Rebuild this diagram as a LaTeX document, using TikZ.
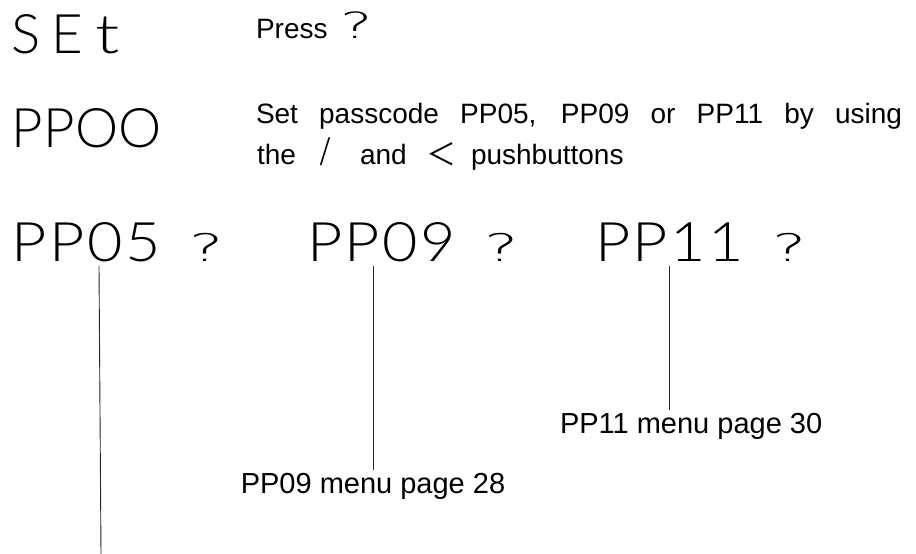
\documentclass[tikz,border=0pt]{standalone}
\usepackage{fontspec}
\usepackage{graphicx}
\setmainfont{Liberation Sans}
\newfontfamily\cjk{Noto Sans CJK SC}
\newfontfamily\thinfont{DejaVu Sans ExtraLight}
\newfontfamily\readfont{Lato Light}
% one widened character of a display readout
\newcommand\rch[1]{\scalebox{1.12}[1]{#1}}
\newcommand\rgap{\hspace{2.5pt}}
\begin{document}
\begin{tikzpicture}[x=1pt,y=-1pt,
  every node/.style={inner sep=0pt, outer sep=0pt},
  readout/.style={anchor=base west, font=\readfont\fontsize{54.5}{60}\selectfont},
  txt/.style={anchor=base west, font=\fontsize{28}{34}\selectfont},
  sym/.style={anchor=base, font=\cjk\fontsize{30}{34}\selectfont},
  qmark/.style={anchor=base west, font=\thinfont\fontsize{38}{40}\selectfont},
  note/.style={font=\fontsize{29}{34}\selectfont},
  lead/.style={line width=0.9pt, draw=black!85}]
\useasboundingbox (0,0) rectangle (916,554);

% first display step
\node[readout] (set) at (12,53) {S\hspace{10pt}E\hspace{13pt}\scalebox{1.3}[1]{t}};
\node[txt] (press) at (256,38) {Press};
\node[qmark, font=\thinfont\fontsize{36}{40}\selectfont] (pressq) at (340,38) {\scalebox{1.7}[1]{?}};

% passcode entry
\node[readout] (pp00) at (12,147) {PPOO};
\node[txt] (l1) at (256,123) {\makebox[646pt][s]{Set passcode PP05, PP09 or PP11 by using}};
\node[txt] (w1) at (257,164) {the};
\node[anchor=base, font=\thinfont\fontsize{34}{36}\selectfont] (slash) at (325,162) {/};
\node[txt] (w3) at (360,164) {and};
\node[sym] (less) at (441,165) {＜};
\node[txt] (w5) at (471,164) {pushbuttons};

% the three passcodes
\node[readout] (pp05) at (12,261) {\rch{P}\rgap\rch{P}\rgap\rch{0}\rgap\rch{5}};
\node[qmark] (q05) at (189,261) {\scalebox{1.7}[1]{?}};
\node[readout] (pp09) at (307,261) {\rch{P}\rgap\rch{P}\rgap\rch{0}\rgap\rch{9}};
\node[qmark] (q09) at (484,261) {\scalebox{1.7}[1]{?}};
\node[readout] (pp11) at (595,261) {\rch{P}\rgap\rch{P}\rgap\rch{1}\rgap\rch{1}};
\node[qmark] (q11) at (772,261) {\scalebox{1.7}[1]{?}};

% menu references
\node[note, anchor=base] (lab09) at (373,493) {PP09 menu page 28};
\node[note, anchor=base west] (lab11) at (560,433) {PP11 menu page 30};

% leader lines
\coordinate (t05) at (99,266);
\coordinate (b05) at (101,554);
\coordinate (t09) at (373,266);
\coordinate (t11) at (669,266);
\draw[lead] (t05) -- (b05);
\draw[lead, shorten >=3pt] (t09) -- (t09 |- lab09.north);
\draw[lead, shorten >=3pt] (t11) -- (t11 |- lab11.north);
\end{tikzpicture}
\end{document}
